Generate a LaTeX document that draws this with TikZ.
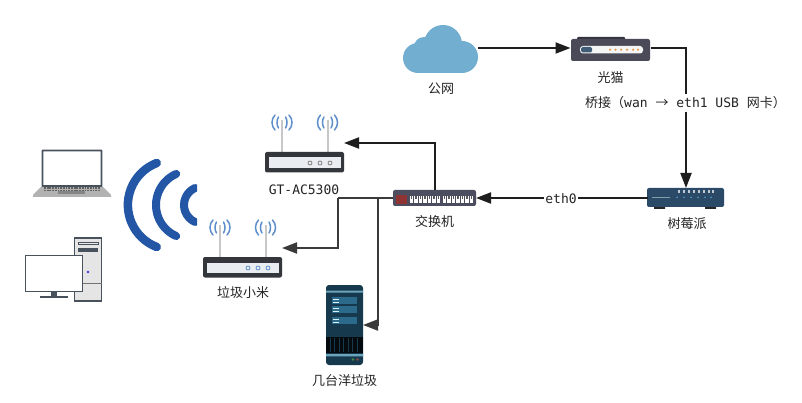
\documentclass[tikz,border=0pt]{standalone}
\usepackage{fontspec}
\setmainfont{DejaVu Sans Mono}
\newfontfamily\cjk{Noto Sans CJK SC}
\usetikzlibrary{arrows.meta}
\definecolor{ink}{HTML}{242424}
\definecolor{wirecol}{HTML}{1E1E1E}
\definecolor{branchcol}{HTML}{3A3A3A}
\definecolor{antwave}{HTML}{5F8FCB}
\definecolor{wifiblue}{HTML}{2456A6}
\definecolor{cloudblue}{HTML}{71AED0}
\definecolor{serverbody}{HTML}{17394D}
\definecolor{serverpanel}{HTML}{2C6A8C}
\definecolor{modembody}{HTML}{4A4A58}
\definecolor{modemtop}{HTML}{33333D}
\definecolor{switchbody}{HTML}{4D4D60}
\definecolor{pibody}{HTML}{2B4A68}
\definecolor{routerbody}{HTML}{33363B}
\definecolor{routerpanel}{HTML}{E9ECF0}
\definecolor{casing}{HTML}{47525C}
\tikzset{
  x=1pt,y=-1pt,
  caption/.style={font=\fontsize{13}{15}\selectfont,text=ink,inner sep=0pt},
  holder/.style={minimum width=#1,inner sep=0pt,outer sep=0pt},
  wire/.style={draw=wirecol,line width=2pt,-{Triangle[length=15pt,width=11pt]}},
  wireplain/.style={draw=wirecol,line width=2pt},
  tapwire/.style={draw=branchcol,line width=2pt,-{Triangle[length=15pt,width=11pt]}},
  % router with two antennas; origin at the top left of the icon
  routericon/.pic={
    \foreach \a in {17,62.5}{
      \draw[line width=2pt,draw=black!22] (\a,7) -- (\a,39);
      \draw[line width=1.5pt,draw=antwave,line cap=round]
        (\a-3.5,4) .. controls (\a-5.5,7) and (\a-5.5,12) .. (\a-3.5,15)
        (\a+3.5,4) .. controls (\a+5.5,7) and (\a+5.5,12) .. (\a+3.5,15)
        (\a-7,2) .. controls (\a-11,6) and (\a-11,13) .. (\a-7,17)
        (\a+7,2) .. controls (\a+11,6) and (\a+11,13) .. (\a+7,17);
    }
    \fill[rounded corners=2pt,fill=routerbody] (0,39) rectangle (79,59.5);
    \fill[fill=routerpanel] (3.5,44.5) rectangle (75.5,55);
    \foreach \d in {45,55,65}
      \draw[line width=.8pt,draw=#1,fill=routerpanel] (\d,50) circle[radius=2];
  },
  routericon/.default={gray}
}
\begin{document}
\begin{tikzpicture}
\useasboundingbox[fill=white] (0,0) rectangle (802,403);

% node frames, one per device
\node[holder=75pt,minimum height=48pt] (cloud) at (440.5,48) {};
\node[holder=80pt,minimum height=24pt] (modem) at (610.5,48) {};
\node[holder=77pt,minimum height=20pt] (pi) at (686,198) {};
\node[holder=83pt,minimum height=16pt] (sw) at (434.5,198) {};
\node[holder=79pt,minimum height=59pt] (ac) at (304.5,143) {};
\node[holder=79pt,minimum height=59pt] (xm) at (242.5,248) {};
\node[holder=37pt,minimum height=80pt] (srv) at (344.5,325) {};

% cloud
\fill[cloudblue] (418,58) circle[radius=15];
\fill[cloudblue] (424,47) circle[radius=10];
\fill[cloudblue] (443,44) circle[radius=19];
\fill[cloudblue] (462,57) circle[radius=16];
\fill[cloudblue] (418,50) rectangle (463,73);

% modem
\fill[modemtop,rounded corners=1pt] (577,37) rectangle (625,41);
\fill[fill=modembody,rounded corners=2pt] (571,39) rectangle (650,61);
\fill[fill=black!4,rounded corners=3pt] (580,46) rectangle (643,53.5);
\fill[fill=pibody!90!white,rounded corners=1.5pt] (581,47) rectangle (592,52.5);
\foreach \d in {610,615.5,621,627,633,638}
  \fill[orange!55!brown!80] (\d,49.7) circle[radius=1.2];

% Raspberry Pi box
\fill[black!85] (654,206) rectangle (665,209) (705,206) rectangle (716,209);
\fill[fill=pibody,rounded corners=2pt] (647,188) rectangle (724,207);
\foreach \d in {678,683,688,693,698,703,708,712}
  \fill[white!70!pibody] (\d,190.5) rectangle +(2.4,3);
\fill[fill=cyan!25!gray] (652,196.8) rectangle (670,198);
\foreach \d in {677,684,691,698,705,711}
  \fill[cyan!60!gray] (\d,197.3) circle[radius=.8];

% switch
\fill[fill=switchbody,rounded corners=2pt] (393,190) rectangle (476,206);
\fill[red!45!black!80] (396,195) rectangle (407,204);
\foreach \d in {409.5,414,418.5,423,427.5,432,436.5,442.5,447,451.5,456,460.5,465,469.5}{
  \fill[white] (\d,196) rectangle +(3.8,7);
  \fill[black!65] (\d+1.2,196.5) rectangle +(1.4,3);
}

% server rack
\fill[serverbody,rounded corners=3pt] (326,285) rectangle (363,365);
\fill[gray!55!cyan] (326,290.5) rectangle (363,292.5) (326,354) rectangle (363,356.3);
\foreach \d/\h in {297/7,306/6.5,317/6.5}
  \fill[serverpanel] (332,\d) rectangle (357,\d+\h);
\foreach \d in {298.5,301.5,307.5,310.5,318.5,321.5}
  \fill[white!85!cyan] (333,\d) rectangle +(6,1);
\fill[black!82!serverbody] (326,337) rectangle (363,353);
\foreach \d in {330,334.5,339,343.5,348,352.5,357}
  \draw[line width=.6pt,draw=serverbody] (\d,338) -- (\d,352);
\fill[green!35!gray!80!black] (353,359.5) circle[radius=1.4];
\fill[red!30!gray!80!black] (357.5,359.5) circle[radius=1.4];

% routers
\pic at (265,113) {routericon={black!50}};
\pic at (203,218) {routericon={antwave}};

% laptop
\fill[fill=black!30] (42,186) -- (102,186) -- (111,195) -- (111,197) -- (33,197) -- (33,195) -- cycle;
\draw[draw=casing,line width=1.8pt,fill=white,rounded corners=.5pt] (42.5,150.5) rectangle (101.5,186);
\foreach \r in {187.8,190.3}
  \draw[draw=black!62,line width=1.5pt,dash pattern=on 1.8pt off .9pt] (44,\r) -- (100,\r);
\fill[black!48] (58,191.5) rectangle (85,194.5);

% desktop tower and monitor
\draw[draw=casing,line width=1.2pt,fill=black!10] (74.5,238) rectangle (101.5,301.5);
\fill[casing] (74.5,300) rectangle (101.5,302);
\draw[draw=casing,line width=.8pt,fill=black!8] (78,242) rectangle (98,244.5);
\fill[casing] (78,248) rectangle (98,252);
\draw[draw=black!55,line width=.8pt] (74.5,283) -- (101.5,283);
\fill[blue!55!gray] (88,272) circle[radius=1.4];
\fill[casing] (51,292) rectangle (57,296.5);
\fill[casing] (40,296) rectangle (68,298);
\draw[draw=casing,line width=1.4pt,fill=white] (25.5,255.5) rectangle (82.5,291.5);

% wifi signal fan
\begin{scope}
  \clip (100,150) rectangle (197,260);
  \draw[draw=wifiblue,line width=8.5pt,line cap=round] (172.9,205) ++(111:45) arc[start angle=111,end angle=249,radius=45];
  \draw[draw=wifiblue,line width=8pt,line cap=round] (190,205) ++(114:34) arc[start angle=114,end angle=246,radius=34];
  \draw[draw=wifiblue,line width=8pt,line cap=round] (202.6,205) ++(114:18.6) arc[start angle=114,end angle=246,radius=18.6];
\end{scope}

% connectors
\coordinate (bendxm) at (338,198);
\coordinate (tap) at (378,198);
\draw[wire] (cloud.east) -- (modem.west);
\draw[wire] (modem.east) -| (pi.north);
\draw[wire] (pi.west) -- (sw.east);
\draw[wire] (sw.north) |- (ac.east);
\draw[wireplain,draw=branchcol] (sw.west) -- (bendxm);
\draw[wire,draw=branchcol] (bendxm) |- (xm.east);
\draw[tapwire] (tap) |- (srv.east);

% connector labels
\node[caption,fill=white,inner ysep=3pt] (bridge) at (685.5,103)
  {{\cjk 桥接（}wan {\cjk →} eth1 USB {\cjk 网卡）}};
\node[caption,fill=white,inner ysep=1pt,inner xsep=1pt] (ethzero) at (561,199) {eth0};

% device captions
\node[caption] (lnet) at (441,89) {\cjk 公网};
\node[caption] (lmodem) at (610.5,78) {\cjk 光猫};
\node[caption] (lpi) at (687,224) {\cjk 树莓派};
\node[caption] (lsw) at (434.5,222) {\cjk 交换机};
\node[caption] (lac) at (304,190) {GT-AC5300};
\node[caption] (lxm) at (243,293) {\cjk 垃圾小米};
\node[caption] (lsrv) at (344.5,381) {\cjk 几台洋垃圾};
\end{tikzpicture}
\end{document}
